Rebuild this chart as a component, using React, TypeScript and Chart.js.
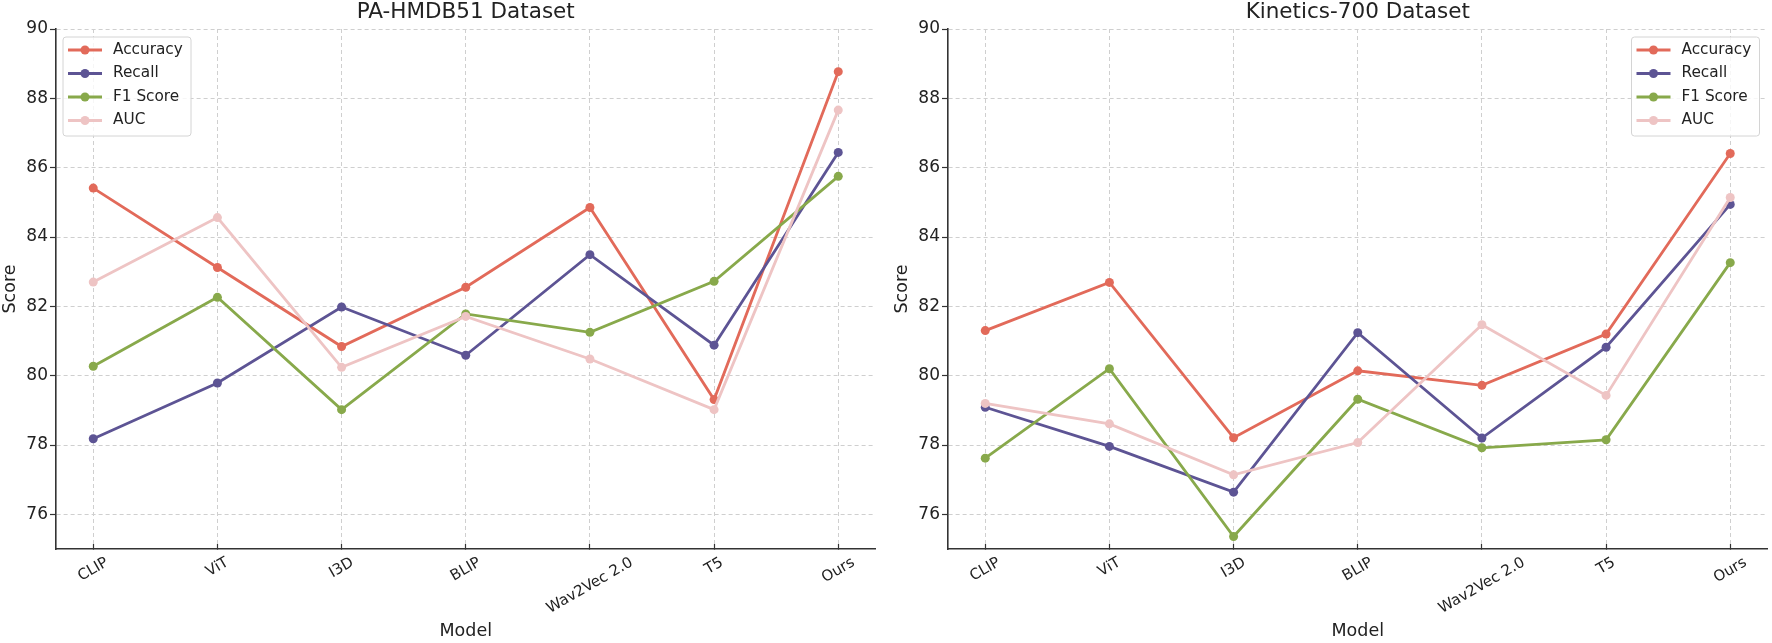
import { useEffect, useRef } from "react"
import { Chart, registerables } from "chart.js"

Chart.register(...registerables)
Chart.defaults.font.family = "'DejaVu Sans', sans-serif"

// Shared categories / ticks
const models = ["CLIP", "ViT", "I3D", "BLIP", "Wav2Vec 2.0", "T5", "Ours"]
const metricNames = ["Accuracy", "Recall", "F1 Score", "AUC"]
const metricColors = ["#e26a5a", "#5d5494", "#88a94b", "#eec4c4"]
const yTicks = [76, 78, 80, 82, 84, 86, 88, 90]

// PA-HMDB51 values
const hmdbAccuracy = [85.41, 83.12, 80.84, 82.55, 84.85, 79.31, 88.77]
const hmdbRecall = [78.18, 79.79, 81.98, 80.59, 83.49, 80.88, 86.44]
const hmdbF1 = [80.27, 82.26, 79.02, 81.78, 81.25, 82.72, 85.75]
const hmdbAuc = [82.7, 84.56, 80.24, 81.71, 80.48, 79.02, 87.66]

// Kinetics-700 values
const kineticsAccuracy = [81.3, 82.69, 78.21, 80.14, 79.72, 81.2, 86.41]
const kineticsRecall = [79.09, 77.96, 76.64, 81.24, 78.2, 80.82, 84.94]
const kineticsF1 = [77.62, 80.2, 75.36, 79.32, 77.92, 78.15, 83.26]
const kineticsAuc = [79.2, 78.61, 77.14, 78.07, 81.47, 79.43, 85.14]

const TEXT = "#222222"
const GRID = "#cfcfcf"
const SPINE = "#333333"

// legend box drawn inside the plot area, in a top corner
const cornerLegend = {
  id: "cornerLegend",
  afterDraw(chart: any, _args: any, opts: any) {
    const { ctx, chartArea } = chart
    const w = 128
    const h = 99
    const x = opts.side === "right" ? chartArea.right - 8 - w : chartArea.left + 7
    const y = chartArea.top + 8
    ctx.save()
    ctx.beginPath()
    ctx.roundRect(x, y, w, h, 3)
    ctx.fillStyle = "rgba(255,255,255,0.8)"
    ctx.fill()
    ctx.strokeStyle = "#d4d4d4"
    ctx.lineWidth = 1
    ctx.stroke()
    ctx.font = "15.3px 'DejaVu Sans', sans-serif"
    ctx.textBaseline = "middle"
    chart.data.datasets.forEach((ds: any, i: number) => {
      const rowY = y + 13 + i * 23.5
      ctx.strokeStyle = ds.borderColor
      ctx.lineWidth = 2.8
      ctx.beginPath()
      ctx.moveTo(x + 5, rowY)
      ctx.lineTo(x + 39, rowY)
      ctx.stroke()
      ctx.fillStyle = ds.borderColor
      ctx.beginPath()
      ctx.arc(x + 22, rowY, 4.5, 0, Math.PI * 2)
      ctx.fill()
      ctx.fillStyle = TEXT
      ctx.fillText(ds.label, x + 50, rowY)
    })
    ctx.restore()
  },
}

// x tick labels rotated 30deg and centred under the tick
const tiltedLabels = {
  id: "tiltedLabels",
  afterDraw(chart: any) {
    const { ctx } = chart
    const scale = chart.scales.x
    const angle = Math.PI / 6
    ctx.save()
    ctx.font = "15px 'DejaVu Sans', sans-serif"
    ctx.fillStyle = TEXT
    ctx.textAlign = "center"
    ctx.textBaseline = "middle"
    scale.ticks.forEach((t: any) => {
      const label = models[t.value]
      const w = ctx.measureText(label).width
      const boxH = w * Math.sin(angle) + 17.5 * Math.cos(angle)
      ctx.save()
      ctx.translate(scale.getPixelForValue(t.value), scale.top + 5 + boxH / 2)
      ctx.rotate(-angle)
      ctx.fillText(label, 0, 0)
      ctx.restore()
    })
    ctx.restore()
  },
}

type PanelProps = {
  title: string
  series: number[][]
  legendSide: "left" | "right"
}

function Panel({ title, series, legendSide }: PanelProps) {
  const chartRef = useRef<HTMLCanvasElement>(null)
  const chartInstance = useRef<Chart | null>(null)

  useEffect(() => {
    if (!chartRef.current) return
    if (chartInstance.current) chartInstance.current.destroy()

    const datasets = series.map((values, i) => ({
      label: metricNames[i],
      data: values.map((v, j) => ({ x: j, y: v })),
      borderColor: metricColors[i],
      backgroundColor: metricColors[i],
      pointBackgroundColor: metricColors[i],
      borderWidth: 2.8,
      pointRadius: 4.5,
      pointBorderWidth: 0,
      tension: 0,
      order: 3 - i,
    }))

    chartInstance.current = new Chart(chartRef.current, {
      type: "line",
      data: { datasets },
      plugins: [cornerLegend, tiltedLabels],
      options: {
        animation: false,
        responsive: true,
        maintainAspectRatio: false,
        layout: { padding: { left: 0, right: 3, top: 0, bottom: 0 } },
        plugins: {
          legend: { display: false },
          tooltip: { enabled: false },
          title: {
            display: true,
            text: title,
            fullSize: false,
            color: TEXT,
            font: { size: 21.5, weight: "normal", lineHeight: 1.2 },
            padding: { top: 0, bottom: 3.2 },
          },
          // @ts-ignore custom plugin options
          cornerLegend: { side: legendSide },
        },
        scales: {
          x: {
            type: "linear",
            min: -0.3,
            max: 6.3,
            afterBuildTicks: (s: any) => {
              s.ticks = models.map((_, i) => ({ value: i }))
            },
            afterFit: (s: any) => {
              s.height = 94
            },
            ticks: { display: false },
            grid: {
              color: GRID,
              lineWidth: 1,
              tickLength: -5,
              tickColor: SPINE,
              tickWidth: 1.2,
              tickBorderDash: [],
            },
            border: { color: SPINE, width: 1.6, dash: [4, 3] },
            title: {
              display: true,
              text: "Model",
              color: TEXT,
              font: { size: 17.5 },
              padding: { top: 0, bottom: 1.5 },
            },
          },
          y: {
            min: 75,
            max: 90,
            afterBuildTicks: (s: any) => {
              s.ticks = yTicks.map((v) => ({ value: v }))
            },
            afterFit: (s: any) => {
              s.width = 56
            },
            ticks: { color: TEXT, font: { size: 17 }, padding: 2 },
            grid: {
              color: GRID,
              lineWidth: 1,
              tickLength: 6,
              tickColor: SPINE,
              tickWidth: 1.2,
              tickBorderDash: [],
            },
            border: { color: SPINE, width: 1.6, dash: [4, 3] },
            title: {
              display: true,
              text: "Score",
              color: TEXT,
              font: { size: 17.5 },
              padding: { top: 0, bottom: 0 },
            },
          },
        },
      } as any,
    })

    return () => {
      if (chartInstance.current) {
        chartInstance.current.destroy()
        chartInstance.current = null
      }
    }
  }, [title, series, legendSide])

  return <canvas ref={chartRef} />
}

export default function App() {
  return (
    <div style={{ position: "absolute", left: 0, top: 0, width: 1772, height: 643, background: "#fff" }}>
      <div style={{ position: "absolute", left: 0, top: 0, width: 880, height: 643 }}>
        <Panel
          title="PA-HMDB51 Dataset"
          series={[hmdbAccuracy, hmdbRecall, hmdbF1, hmdbAuc]}
          legendSide="left"
        />
      </div>
      <div style={{ position: "absolute", left: 892, top: 0, width: 880, height: 643 }}>
        <Panel
          title="Kinetics-700 Dataset"
          series={[kineticsAccuracy, kineticsRecall, kineticsF1, kineticsAuc]}
          legendSide="right"
        />
      </div>
    </div>
  )
}
